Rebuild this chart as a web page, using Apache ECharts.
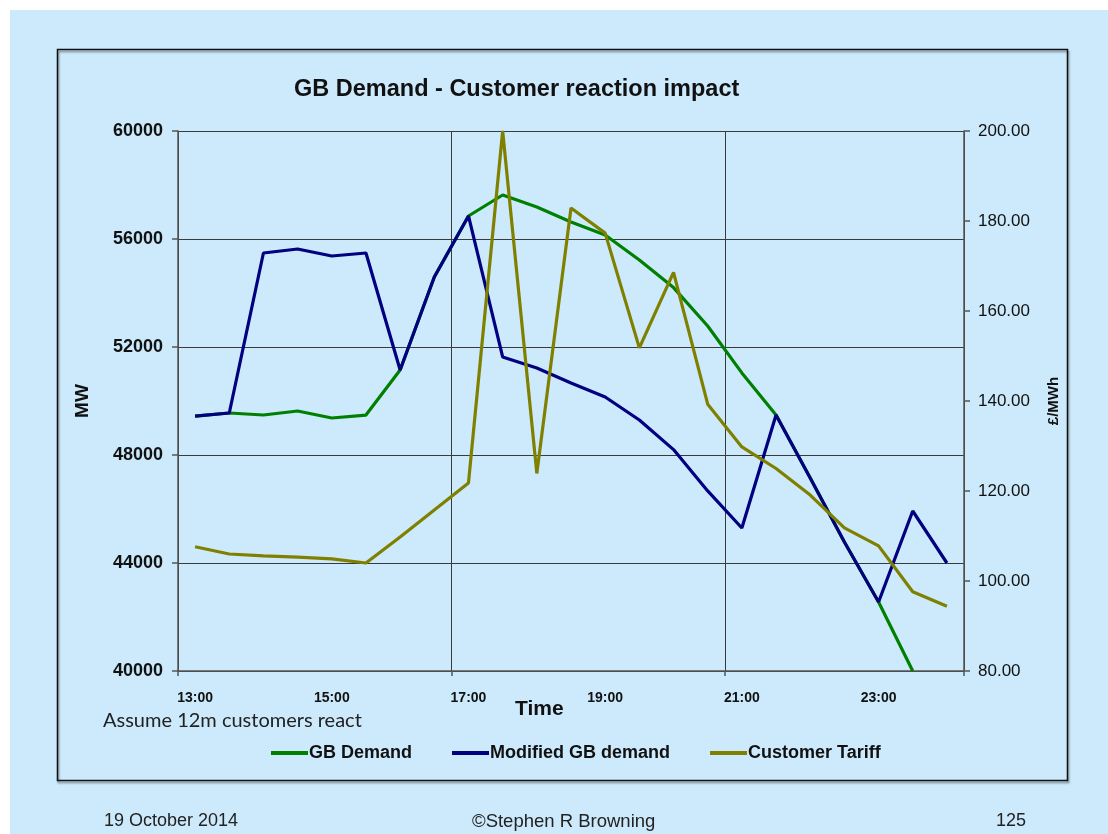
<!DOCTYPE html>
<html>
<head>
<meta charset="utf-8">
<script src="https://cdn.jsdelivr.net/npm/echarts@6/dist/echarts.min.js"></script>
<style>
html,body{margin:0;padding:0;background:#ffffff;width:1108px;height:834px;overflow:hidden;}
#bg{position:absolute;left:10px;top:10px;width:1098px;height:824px;background:#CCEAFB;}
#chart{position:absolute;left:0;top:0;width:1108px;height:834px;}
</style>
</head>
<body>
<div id="bg"></div>
<div id="chart"></div>
<script>
const times = ['13:00','13:30','14:00','14:30','15:00','15:30','16:00','16:30','17:00','17:30','18:00','18:30',
  '19:00','19:30','20:00','20:30','21:00','21:30','22:00','22:30','23:00','23:30','24:00'];
const gbDemand = [49440,49556,49481,49630,49370,49480,51148,54593,56852,57630,57185,56630,
  56148,55222,54200,52780,51040,49481,47148,44778,42556,40000,null];
const modifiedDemand = [49440,49556,55481,55630,55370,55481,51148,54593,56852,51630,51222,50667,
  50148,49296,48200,46670,45296,49481,47148,44778,42556,45926,44000];
const customerTariff = [107.6,106.0,105.6,105.3,104.9,104.0,109.8,115.8,121.8,200.0,123.9,182.9,
  177.3,151.8,168.6,139.3,129.8,125.0,119.1,111.8,107.8,97.6,94.4];
const leftTicks = {min:40000, max:60000, interval:4000};
const rightTicks = {min:80, max:200, interval:20};

const chart = echarts.init(document.getElementById('chart'), null, {renderer:'canvas'});
const FONT = '"Liberation Sans", Arial, sans-serif';
chart.setOption({
  backgroundColor: 'transparent',
  animation: false,
  title: {
    text: 'GB Demand - Customer reaction impact',
    left: 289, top: 73,
    textStyle: {fontFamily: FONT, fontSize: 23.5, fontWeight: 'bold', color: '#111'}
  },
  grid: {left: 178, right: 144, top: 131, bottom: 163, containLabel: false},
  legend: {
    bottom: 67, left: 266,
    itemWidth: 37, itemHeight: 4, itemGap: 40,
    icon: 'rect',
    textStyle: {fontFamily: FONT, fontSize: 18, fontWeight: 'bold', color: '#111', padding:[0,0,0,-4]},
    data: ['GB Demand','Modified GB demand','Customer Tariff']
  },
  xAxis: {
    type: 'category',
    data: times,
    boundaryGap: true,
    axisLine: {lineStyle: {color: '#555', width: 1.5}},
    axisTick: {show: true, interval: 7, length: 5, lineStyle: {color: '#555', width: 1.5}},
    axisLabel: {interval: 3, margin: 20, fontFamily: FONT, fontSize: 14, fontWeight: 'bold', color: '#111'},
    splitLine: {show: true, interval: 7, lineStyle: {color: '#3a3a3a', width: 1}}
  },
  yAxis: [
    {
      type: 'value', position: 'left',
      min: leftTicks.min, max: leftTicks.max, interval: leftTicks.interval,
      name: 'MW', nameLocation: 'middle', nameGap: 86, nameRotate: 90,
      nameTextStyle: {fontFamily: FONT, fontSize: 19, fontWeight: 'bold', color: '#111'},
      axisLine: {show: true, lineStyle: {color: '#555', width: 1.5}},
      axisTick: {show: true, length: 6, lineStyle: {color: '#555', width: 1.5}},
      axisLabel: {margin: 15, fontFamily: FONT, fontSize: 18, fontWeight: 'bold', color: '#111',
        formatter: v => String(v)},
      splitLine: {show: true, lineStyle: {color: '#3a3a3a', width: 1}}
    },
    {
      type: 'value', position: 'right',
      min: rightTicks.min, max: rightTicks.max, interval: rightTicks.interval,
      name: '£/MWh', nameLocation: 'middle', nameGap: 82, nameRotate: 90,
      nameTextStyle: {fontFamily: FONT, fontSize: 15, fontWeight: 'bold', color: '#111'},
      axisLine: {show: true, lineStyle: {color: '#555', width: 1.5}},
      axisTick: {show: true, length: 6, lineStyle: {color: '#555', width: 1.5}},
      axisLabel: {margin: 14, fontFamily: FONT, fontSize: 17, color: '#111',
        formatter: v => v.toFixed(2)},
      splitLine: {show: false}
    }
  ],
  series: [
    {name: 'GB Demand', type: 'line', yAxisIndex: 0, data: gbDemand, showSymbol: false,
      symbol: 'none', lineStyle: {color: '#008000', width: 3.2}, itemStyle: {color: '#008000'}, z: 2},
    {name: 'Modified GB demand', type: 'line', yAxisIndex: 0, data: modifiedDemand, showSymbol: false,
      symbol: 'none', lineStyle: {color: '#000080', width: 3.2}, itemStyle: {color: '#000080'}, z: 3},
    {name: 'Customer Tariff', type: 'line', yAxisIndex: 1, data: customerTariff, showSymbol: false,
      symbol: 'none', lineStyle: {color: '#808000', width: 3.2}, itemStyle: {color: '#808000'}, z: 4}
  ],
  graphic: [
    {type: 'rect', left: 55, top: 47, shape: {width: 1010, height: 731},
      style: {fill: 'none', stroke: '#111', lineWidth: 1.5, shadowColor: 'rgba(0,0,0,0.45)', shadowBlur: 2, shadowOffsetX: 1, shadowOffsetY: 2}, z: -1},
    {type: 'text', left: 515, top: 699, style: {text: 'Time', font: 'bold 21px "Liberation Sans", Arial, sans-serif', fill: '#111'}},
    {type: 'text', left: 103, top: 711, style: {text: 'Assume 12m customers react', font: '20px Lato, "Open Sans", sans-serif', fill: '#222'}},
    {type: 'text', left: 104, top: 812, style: {text: '19 October 2014', font: '18px "Liberation Sans", Arial, sans-serif', fill: '#222'}},
    {type: 'text', left: 472, top: 812, style: {text: '©Stephen R Browning', font: '18.5px "Liberation Sans", Arial, sans-serif', fill: '#222'}},
    {type: 'text', left: 996, top: 812, style: {text: '125', font: '18px "Liberation Sans", Arial, sans-serif', fill: '#222'}}
  ]
});
</script>
</body>
</html>
